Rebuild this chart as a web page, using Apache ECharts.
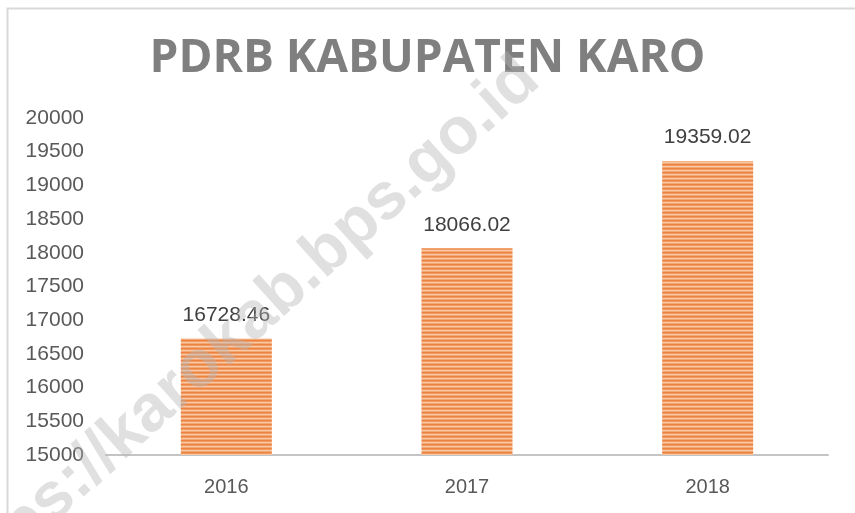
<!DOCTYPE html>
<html>
<head>
<meta charset="utf-8">
<title>PDRB Kabupaten Karo</title>
<style>
  html, body { margin: 0; padding: 0; background: #ffffff; }
</style>
</head>
<body>
    <div id="main" style="width: 855px; height: 513px;"></div>
    <script src="https://cdn.jsdelivr.net/npm/echarts@6/dist/echarts.min.js"></script>
    <script type="text/javascript">
        // data
        var years = ['2016', '2017', '2018'];
        var pdrb = [16728.46, 18066.02, 19359.02];
        var yMin = 15000;
        var yMax = 20000;
        var yStep = 500;

        // striped orange fill like the original office chart
        function stripes() {
            var c = document.createElement('canvas');
            c.width = 4;
            c.height = 4;
            var ctx = c.getContext('2d');
            var rows = ['#ee8240', '#f19a5f', '#f8c9a8', '#f3a874'];
            for (var i = 0; i < rows.length; i++) {
                ctx.fillStyle = rows[i];
                ctx.fillRect(0, i, 4, 1);
            }
            return c;
        }

        var myChart = echarts.init(document.getElementById('main'));

        var option = {
            backgroundColor: '#ffffff',
            animation: false,
            title: {
                text: 'PDRB KABUPATEN KARO',
                left: 'center',
                top: 31,
                textStyle: {
                    fontFamily: 'Open Sans',
                    fontWeight: 'bold',
                    fontSize: 46,
                    color: '#7f7f7f'
                }
            },
            grid: {
                left: 106,
                right: 27,
                top: 118,
                bottom: 58
            },
            xAxis: {
                type: 'category',
                data: years,
                axisLine: { lineStyle: { color: '#c4c4c4', width: 2 } },
                axisTick: { show: false },
                axisLabel: {
                    margin: 22,
                    fontFamily: 'Liberation Sans',
                    fontSize: 20,
                    color: '#595959'
                }
            },
            yAxis: {
                type: 'value',
                min: yMin,
                max: yMax,
                interval: yStep,
                splitLine: { show: false },
                axisLine: { show: false },
                axisTick: { show: false },
                axisLabel: {
                    margin: 22,
                    fontFamily: 'Liberation Sans',
                    fontSize: 21,
                    color: '#595959',
                    formatter: function (v) { return String(v); }
                }
            },
            series: [{
                type: 'bar',
                data: pdrb,
                barWidth: 91,
                itemStyle: {
                    color: { image: stripes(), repeat: 'repeat' }
                },
                label: {
                    show: true,
                    position: 'top',
                    distance: 13,
                    fontFamily: 'Liberation Sans',
                    fontSize: 21,
                    color: '#404040',
                    formatter: function (p) { return p.value.toFixed(2); }
                }
            }],
            graphic: [{
                type: 'rect',
                left: 5,
                top: 6,
                shape: { width: 900, height: 600 },
                style: { fill: 'none', stroke: '#d9d9d9', lineWidth: 2 },
                silent: true
            }, {
                type: 'text',
                x: 530,
                y: 70,
                rotation: 42 * Math.PI / 180,
                z: 100,
                silent: true,
                style: {
                    text: 'https://karokab.bps.go.id',
                    align: 'right',
                    verticalAlign: 'middle',
                    font: 'bold 66px "Liberation Sans"',
                    fill: 'rgba(180,180,180,0.42)'
                }
            }]
        };

        myChart.setOption(option);
    </script>
</body>
</html>
